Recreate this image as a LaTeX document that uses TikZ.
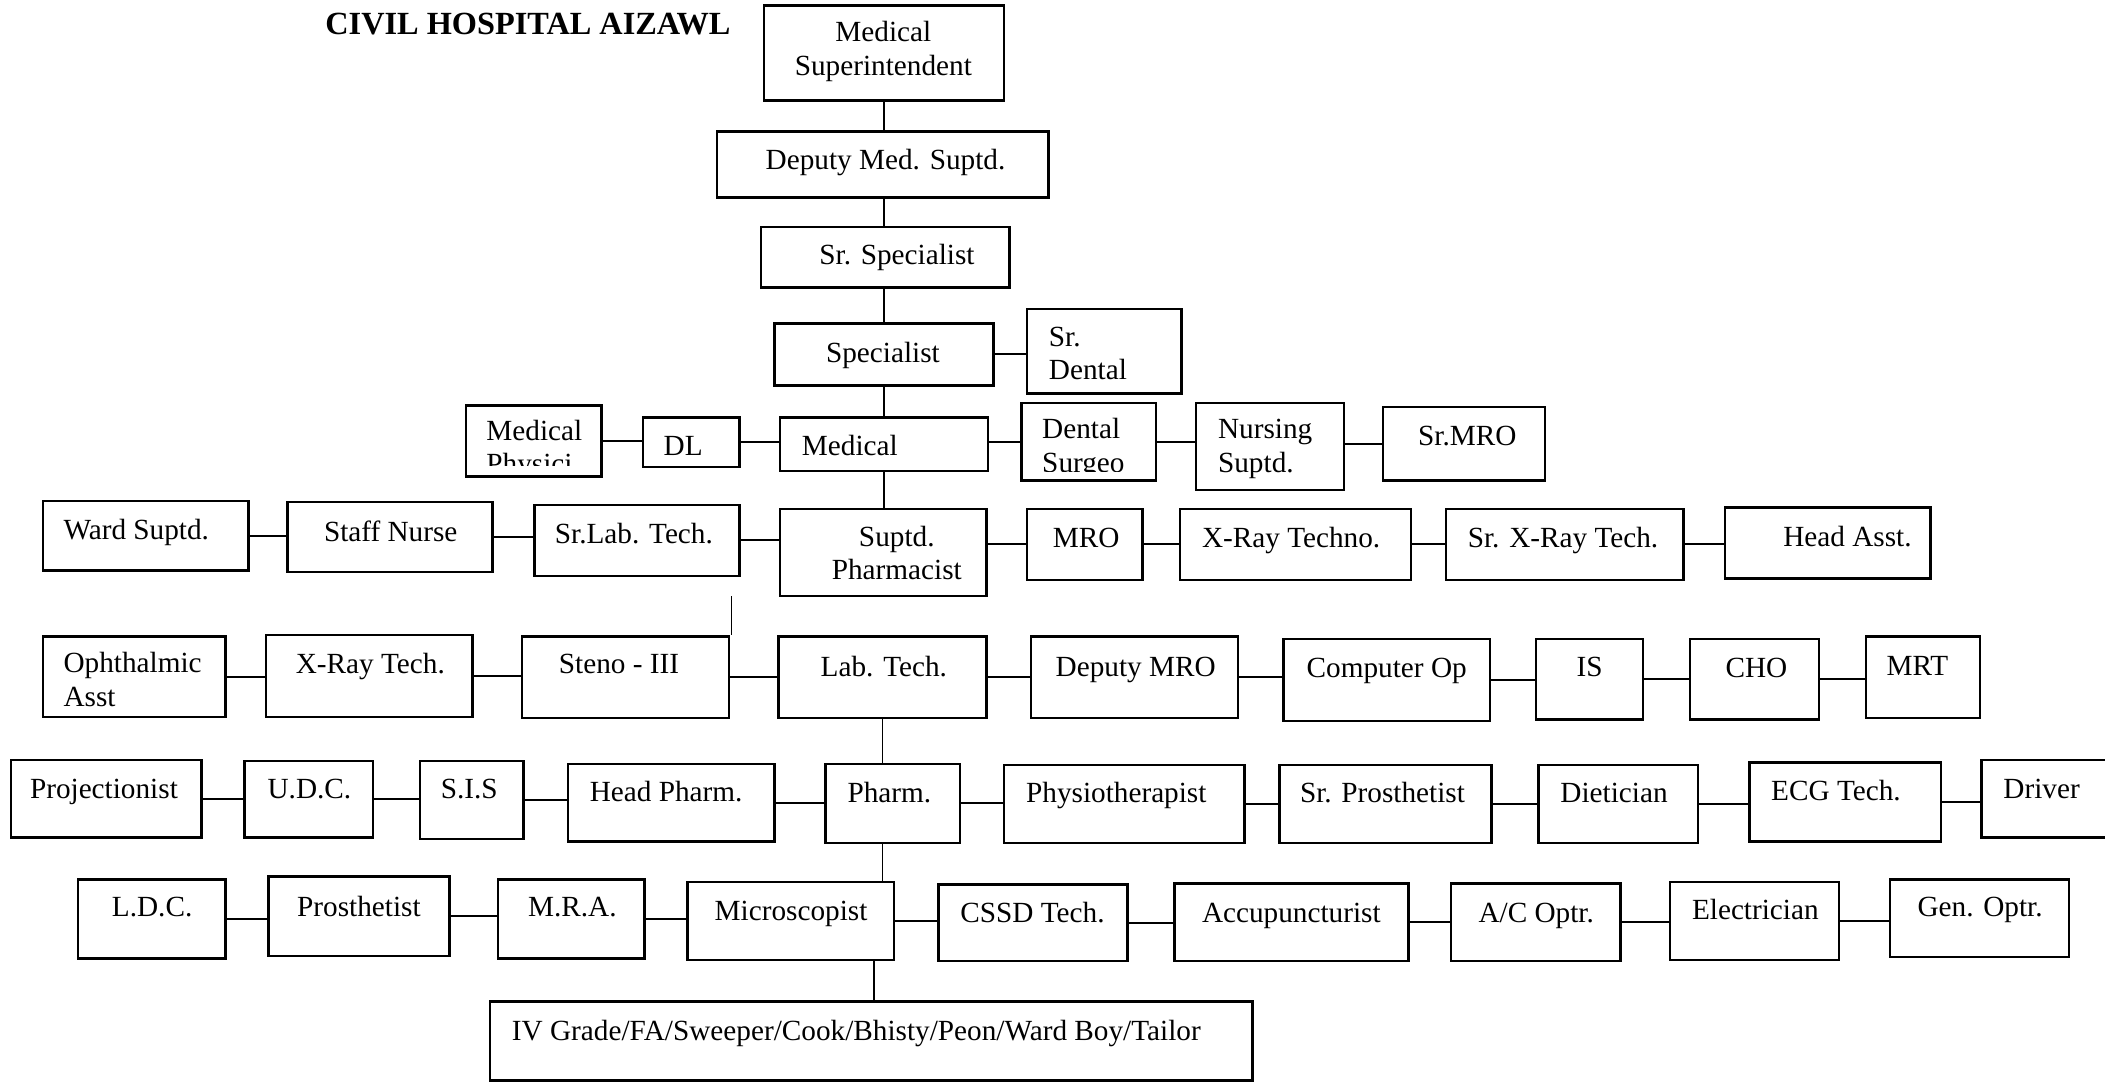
\documentclass[tikz,border=0pt]{standalone}
\usepackage{fontspec}
\setmainfont{Liberation Serif}
\usepackage{tikz}
\usetikzlibrary{fit,calc}
\definecolor{ink}{HTML}{000000}
\tikzset{
  box/.style={draw=ink, line width=1.05pt, inner sep=0pt},
  line/.style={draw=ink, line width=0.85pt},
  vline/.style={draw=ink, line width=0.6pt},
  lbl/.style={text=ink, font=\fontsize{12.4}{14.3}\selectfont, inner sep=0pt, align=left, anchor=base west},
  clbl/.style={lbl, align=center, anchor=base},
  ttl/.style={text=ink, font=\fontsize{13.7}{16}\selectfont\bfseries, inner sep=0pt, anchor=base west}
}

\begin{document}
\begin{tikzpicture}[x=0.02cm, y=-0.02cm]
  \useasboundingbox (0,0) rectangle (1568,807);
  \clip (0,0) rectangle (1568,807);

  \node[ttl] (title) at (242,26) {CIVIL HOSPITAL AIZAWL};

  % spine (two-line labels sit on their last line)
  \node[box, fit={(569,4) (748,75)}] (ms) {};
  \node[clbl] (ms-t) at (658,56) {Medical\\Superintendent};
  \node[box, fit={(534,98) (781,147)}] (dms) {};
  \node[lbl] (dms-t) at (570,126) {Deputy Med. Suptd.};
  \node[box, fit={(567,169) (752,214)}] (ssp) {};
  \node[lbl] (ssp-t) at (610,197) {Sr. Specialist};
  \node[box, fit={(577,241) (740,287)}] (spc) {};
  \node[lbl] (spc-t) at (615,270) {Specialist};
  \node[box, fit={(765,230) (880,293)}] (sdent) {};
  \node[lbl] (sdent-t) at (781,283) {Sr.\\Dental};

  % row with Medical
  \node[box, fit={(347,302) (448,355)}] (mphys) {};
  \begin{scope}
    \clip (347,302) rectangle (448,347);
    \node[lbl] (mphys-t) at (362,353) {Medical\\Physici};
  \end{scope}
  \node[box, fit={(479,311) (551,348)}] (dl) {};
  \node[lbl] (dl-t) at (494,339) {DL};
  \node[box, fit={(581,311) (736,351)}] (med) {};
  \node[lbl] (med-t) at (597,339) {Medical};
  \node[box, fit={(761,300) (861,358)}] (dsurg) {};
  \begin{scope}
    \clip (761,300) rectangle (861,351);
    \node[lbl] (dsurg-t) at (776,352) {Dental\\Surgeo};
  \end{scope}
  \node[box, fit={(891,300) (1001,365)}] (nurs) {};
  \node[lbl] (nurs-t) at (907,352) {Nursing\\Suptd.};
  \node[box, fit={(1030,303) (1151,358)}] (srmro) {};
  \node[lbl] (srmro-t) at (1056,332) {Sr.MRO};

  % row with Suptd. Pharmacist
  \node[box, fit={(32,373) (185,425)}] (ward) {};
  \node[lbl] (ward-t) at (47,402) {Ward Suptd.};
  \node[box, fit={(214,374) (367,426)}] (staff) {};
  \node[lbl] (staff-t) at (241,403) {Staff Nurse};
  \node[box, fit={(398,376) (551,429)}] (srlab) {};
  \node[lbl] (srlab-t) at (413,405) {Sr.Lab. Tech.};
  \node[box, fit={(581,379) (735,444)}] (spharm) {};
  \node[clbl] (spharm-t) at (668,432) {Suptd.\\Pharmacist};
  \node[box, fit={(765,379) (851,432)}] (mro) {};
  \node[lbl] (mro-t) at (784,408) {MRO};
  \node[box, fit={(879,379) (1051,432)}] (xtechno) {};
  \node[lbl] (xtechno-t) at (895,408) {X-Ray Techno.};
  \node[box, fit={(1077,379) (1254,432)}] (srxray) {};
  \node[lbl] (srxray-t) at (1093,408) {Sr. X-Ray Tech.};
  \node[box, fit={(1285,378) (1438,431)}] (hasst) {};
  \node[lbl] (hasst-t) at (1328,407) {Head Asst.};

  % row with Lab. Tech.
  \node[box, fit={(32,474) (168,534)}] (ophth) {};
  \node[lbl] (ophth-t) at (47,526) {Ophthalmic\\Asst};
  \node[box, fit={(198,473) (352,534)}] (xtech) {};
  \node[lbl] (xtech-t) at (220,502) {X-Ray Tech.};
  \node[box, fit={(389,474) (543,535)}] (steno) {};
  \node[lbl] (steno-t) at (416,502) {Steno - III};
  \node[box, fit={(580,474) (735,535)}] (labt) {};
  \node[lbl] (labt-t) at (611,504) {Lab. Tech.};
  \node[box, fit={(768,474) (922,535)}] (dmro) {};
  \node[lbl] (dmro-t) at (786,504) {Deputy MRO};
  \node[box, fit={(956,476) (1110,537)}] (comp) {};
  \node[lbl] (comp-t) at (973,505) {Computer Op};
  \node[box, fit={(1144,476) (1224,536)}] (is) {};
  \node[lbl] (is-t) at (1174,504) {IS};
  \node[box, fit={(1259,476) (1355,536)}] (cho) {};
  \node[lbl] (cho-t) at (1285,505) {CHO};
  \node[box, fit={(1390,474) (1475,535)}] (mrt) {};
  \node[lbl] (mrt-t) at (1405,503) {MRT};

  % row with Pharm.
  \node[box, fit={(8,566) (150,624)}] (proj) {};
  \node[lbl] (proj-t) at (22,595) {Projectionist};
  \node[box, fit={(182,567) (278,624)}] (udc) {};
  \node[lbl] (udc-t) at (199,595) {U.D.C.};
  \node[box, fit={(313,567) (390,625)}] (sis) {};
  \node[lbl] (sis-t) at (328,595) {S.I.S};
  \node[box, fit={(423,569) (577,627)}] (hpharm) {};
  \node[lbl] (hpharm-t) at (439,597) {Head Pharm.};
  \node[box, fit={(615,569) (715,628)}] (pharm) {};
  \node[lbl] (pharm-t) at (631,598) {Pharm.};
  \node[box, fit={(748,570) (927,628)}] (physio) {};
  \node[lbl] (physio-t) at (764,598) {Physiotherapist};
  \node[box, fit={(953,570) (1111,628)}] (sprost) {};
  \node[lbl] (sprost-t) at (968,598) {Sr. Prosthetist};
  \node[box, fit={(1146,570) (1265,628)}] (diet) {};
  \node[lbl] (diet-t) at (1162,598) {Dietician};
  \node[box, fit={(1303,568) (1446,627)}] (ecg) {};
  \node[lbl] (ecg-t) at (1319,596) {ECG Tech.};
  \node[box, fit={(1476,566) (1590,624)}] (driver) {};
  \node[lbl] (driver-t) at (1492,595) {Driver};

  % row with Microscopist
  \node[box, fit={(58,655) (168,714)}] (ldc) {};
  \node[lbl] (ldc-t) at (83,683) {L.D.C.};
  \node[box, fit={(200,653) (335,712)}] (prost) {};
  \node[lbl] (prost-t) at (221,683) {Prosthetist};
  \node[box, fit={(371,655) (480,714)}] (mra) {};
  \node[lbl] (mra-t) at (393,683) {M.R.A.};
  \node[box, fit={(512,657) (666,715)}] (micro) {};
  \node[lbl] (micro-t) at (532,686) {Microscopist};
  \node[box, fit={(699,659) (840,716)}] (cssd) {};
  \node[lbl] (cssd-t) at (715,687) {CSSD Tech.};
  \node[box, fit={(875,658) (1049,716)}] (acc) {};
  \node[lbl] (acc-t) at (895,687) {Accupuncturist};
  \node[box, fit={(1081,658) (1207,716)}] (acopt) {};
  \node[lbl] (acopt-t) at (1101,687) {A/C Optr.};
  \node[box, fit={(1244,657) (1370,715)}] (elec) {};
  \node[lbl] (elec-t) at (1260,685) {Electrician};
  \node[box, fit={(1408,655) (1541,713)}] (gen) {};
  \node[lbl] (gen-t) at (1428,683) {Gen. Optr.};

  \node[box, fit={(365,746) (933,805)}] (grade4) {};
  \node[lbl] (grade4-t) at (381,775) {IV Grade/FA/Sweeper/Cook/Bhisty/Peon/Ward Boy/Tailor};

  % vertical links
  \draw[vline] (ms.south) -- (ms.south |- dms.north);
  \draw[vline] (ms.south |- dms.south) -- (ms.south |- ssp.north);
  \draw[vline] (ms.south |- ssp.south) -- (ms.south |- spc.north);
  \draw[vline] (ms.south |- spc.south) -- (ms.south |- med.north);
  \draw[vline] (ms.south |- med.south) -- (ms.south |- spharm.north);
  \coordinate (stray) at (545,444);
  \draw[vline] (stray) -- (stray |- steno.north);
  \draw[vline] (labt.south) -- (labt.south |- pharm.north);
  \draw[vline] (labt.south |- pharm.south) -- (labt.south |- micro.north);
  \coordinate (drop) at ($(micro.south east)+(-16,0)$);
  \draw[vline] (drop) -- (drop |- grade4.north);

  % side links
  \draw[line] (spc.east) -- (spc.east -| sdent.west);
  \draw[line] (mphys.east) -- (mphys.east -| dl.west);
  \draw[line] (dl.east) -- (dl.east -| med.west);
  \draw[line] (dsurg.west -| med.east) -- (dsurg.west);
  \draw[line] (dsurg.east) -- (dsurg.east -| nurs.west);
  \draw[line] (srmro.west -| nurs.east) -- (srmro.west);

  \draw[line] (ward.east) -- (ward.east -| staff.west);
  \draw[line] (staff.east) -- (staff.east -| srlab.west);
  \draw[line] (srlab.east) -- (srlab.east -| spharm.west);
  \draw[line] (mro.west -| spharm.east) -- (mro.west);
  \draw[line] (mro.east) -- (mro.east -| xtechno.west);
  \draw[line] (xtechno.east) -- (xtechno.east -| srxray.west);
  \draw[line] (srxray.east) -- (srxray.east -| hasst.west);

  \draw[line] (ophth.east) -- (ophth.east -| xtech.west);
  \draw[line] (xtech.east) -- (xtech.east -| steno.west);
  \draw[line] (steno.east) -- (steno.east -| labt.west);
  \draw[line] (labt.east) -- (labt.east -| dmro.west);
  \draw[line] (dmro.east) -- (dmro.east -| comp.west);
  \draw[line] (comp.east) -- (comp.east -| is.west);
  \draw[line] (is.east) -- (is.east -| cho.west);
  \draw[line] (cho.east) -- (cho.east -| mrt.west);

  \draw[line] (proj.east) -- (proj.east -| udc.west);
  \draw[line] (udc.east) -- (udc.east -| sis.west);
  \draw[line] (sis.east) -- (sis.east -| hpharm.west);
  \draw[line] (hpharm.east) -- (hpharm.east -| pharm.west);
  \draw[line] (pharm.east) -- (pharm.east -| physio.west);
  \draw[line] (physio.east) -- (physio.east -| sprost.west);
  \draw[line] (sprost.east) -- (sprost.east -| diet.west);
  \draw[line] (diet.east) -- (diet.east -| ecg.west);
  \draw[line] (ecg.east) -- (ecg.east -| driver.west);

  \draw[line] (ldc.east) -- (ldc.east -| prost.west);
  \draw[line] (prost.east) -- (prost.east -| mra.west);
  \draw[line] (mra.east) -- (mra.east -| micro.west);
  \draw[line] (micro.east) -- (micro.east -| cssd.west);
  \draw[line] (cssd.east) -- (cssd.east -| acc.west);
  \draw[line] (acc.east) -- (acc.east -| acopt.west);
  \draw[line] (acopt.east) -- (acopt.east -| elec.west);
  \draw[line] (elec.east) -- (elec.east -| gen.west);
\end{tikzpicture}
\end{document}
